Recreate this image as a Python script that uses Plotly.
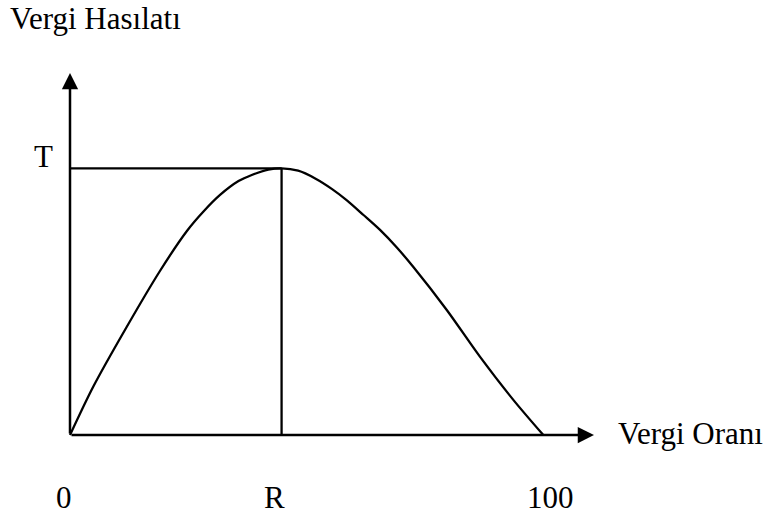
import plotly.graph_objects as go

# Laffer curve: tax rate (0-100) vs tax revenue (T = peak = 100)
tax_rate = [0, 4.9, 12.0, 19.0, 24.7, 28.2, 31.7, 35.6, 38.4, 41.9, 44.7, 48.2, 51.8, 55.3,
            58.5, 62.0, 65.5, 69.0, 72.5, 79.6, 86.6, 93.7, 100]
revenue = [0, 18.1, 40.6, 61.5, 76.5, 83.8, 90.0, 95.2, 97.5, 99.5, 100, 99.1, 96.2, 92.3,
           88.0, 82.5, 76.9, 70.4, 63.1, 46.9, 29.4, 13.1, 0]

R = 44.7
T = 100
x_tick_vals = [0, R, 100]
x_tick_text = ["0", "R", "100"]
y_label = "Vergi Hasılatı"
x_label = "Vergi Oranı"
peak_label = "T"

FONT = "Liberation Serif, Times New Roman, serif"
FS = 31
X_TIP = 110.7
Y_TIP = 135.7

fig = go.Figure()

# curve
fig.add_trace(go.Scatter(x=tax_rate, y=revenue, mode="lines",
                         line=dict(color="black", width=2.3, shape="spline", smoothing=0.8),
                         hoverinfo="skip", showlegend=False))
# guide lines: horizontal at T and vertical at R
fig.add_trace(go.Scatter(x=[0, R], y=[T, T], mode="lines",
                         line=dict(color="black", width=2.3), hoverinfo="skip", showlegend=False))
fig.add_trace(go.Scatter(x=[R, R], y=[0, T], mode="lines",
                         line=dict(color="black", width=2.3), hoverinfo="skip", showlegend=False))

annotations = [
    # axes with arrowheads
    dict(x=X_TIP, y=0, ax=0, ay=0, xref="x", yref="y", axref="x", ayref="y",
         text="", showarrow=True, arrowhead=2, arrowsize=1.3, arrowwidth=2.5, arrowcolor="black"),
    dict(x=0, y=Y_TIP, ax=0, ay=0, xref="x", yref="y", axref="x", ayref="y",
         text="", showarrow=True, arrowhead=2, arrowsize=1.3, arrowwidth=2.5, arrowcolor="black"),
    dict(x=-13.1, y=156.0, xref="x", yref="y", text=y_label, showarrow=False,
         xanchor="left", yanchor="middle", font=dict(family=FONT, size=FS, color="black")),
    dict(x=115.4, y=0.6, xref="x", yref="y", text=x_label, showarrow=False,
         xanchor="left", yanchor="middle", font=dict(family=FONT, size=FS, color="black")),
    dict(x=-5.7, y=T + 4.6, xref="x", yref="y", text=peak_label, showarrow=False,
         xanchor="center", yanchor="middle", font=dict(family=FONT, size=FS, color="black")),
]
label_x = [-1.27, 43.1, 101.5]  # label centres (slightly offset from the tick values)
for lx, t in zip(label_x, x_tick_text):
    annotations.append(dict(x=lx, y=-23.4, xref="x", yref="y", text=t, showarrow=False,
                            xanchor="center", yanchor="middle",
                            font=dict(family=FONT, size=FS, color="black")))

fig.update_layout(
    width=771, height=518,
    margin=dict(l=0, r=0, t=0, b=0),
    paper_bgcolor="white", plot_bgcolor="white",
    xaxis=dict(range=[-14.79, 148.1], visible=False, fixedrange=True),
    yaxis=dict(range=[-31.1, 163.1], visible=False, fixedrange=True),
    annotations=annotations,
    showlegend=False,
)

fig.write_html("out.html", config={"displayModeBar": False},
               post_script="document.body.style.margin='0';document.body.style.overflow='hidden';")
